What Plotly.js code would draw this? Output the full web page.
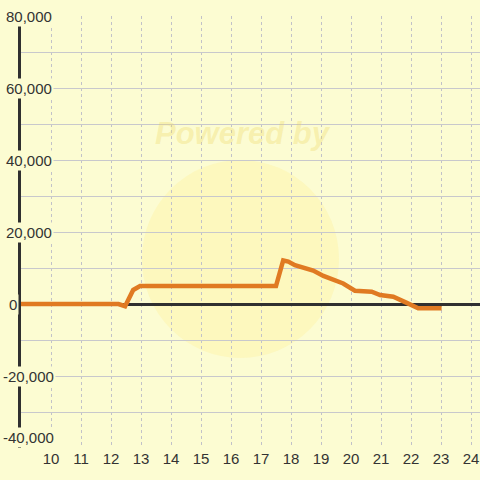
<!DOCTYPE html>
<html>
<head>
<meta charset="utf-8">
<script src="https://cdn.plot.ly/plotly-3.0.1.min.js"></script>
<style>html,body{margin:0;padding:0;background:#fcfcd2;}#chart{width:480px;height:480px;}</style>
</head>
<body>
<div id="chart"></div>
<script>
// Data
const xValues = [9, 12.25, 12.47, 12.74, 12.97, 17.5, 17.74, 17.91, 18.13, 18.47, 18.74, 19.08, 19.47, 19.74, 20.13, 20.69, 20.97, 21.41, 21.86, 22.24, 23.02];
const yValues = [0, 0, -600, 3900, 5000, 5000, 12100, 11800, 10800, 9900, 9300, 7800, 6400, 5700, 3700, 3400, 2500, 2000, 300, -1200, -1200];
const xTicks = [10, 11, 12, 13, 14, 15, 16, 17, 18, 19, 20, 21, 22, 23, 24];
const yTickValues = [80000, 60000, 40000, 20000, 0, -20000, -40000];
const yTickLabels = ['80,000', '60,000', '40,000', '20,000', '0', '-20,000', '-40,000'];

const bg = '#fcfcd2';
const textColor = '#333333';
const yMin = -40000;

const trace = {
  x: xValues, y: yValues, type: 'scatter', mode: 'lines',
  line: {color: '#e07a22', width: 4.5},
  hoverinfo: 'skip', showlegend: false
};

const annotations = yTickValues.map((v, i) => {
  const lbl = yTickLabels[i];
  const neg = lbl.charAt(0) === '-';
  const px = lbl === '0' ? 7 : (neg ? 1 : 4);
  return {
    xref: 'paper', yref: 'y', x: (px - 21) / 459, y: v,
    xanchor: 'left', yanchor: v === yMin ? 'bottom' : 'middle',
    text: lbl, showarrow: false,
    font: {family: 'Liberation Sans, Arial, sans-serif', size: 15, color: textColor},
    bgcolor: bg, borderpad: 1
  };
});

annotations.push({
  xref: 'paper', yref: 'paper', x: 0.483, y: 0.727,
  xanchor: 'center', yanchor: 'middle', showarrow: false,
  text: '<b><i>Powered by</i></b>',
  font: {family: 'Liberation Sans, Arial, sans-serif', size: 31, color: 'rgba(236,214,100,0.33)'}
});

const layout = {
  width: 480, height: 480,
  margin: {l: 21, r: 0, t: 16, b: 32},
  paper_bgcolor: bg, plot_bgcolor: bg,
  xaxis: {
    range: [9, 24.3], tickvals: xTicks, ticktext: xTicks.map(String),
    showgrid: true, gridcolor: '#c2c2c8', gridwidth: 1, griddash: '3px,3px',
    zeroline: false, showline: false, ticks: '',
    tickfont: {family: 'Liberation Sans, Arial, sans-serif', size: 15, color: textColor},
    fixedrange: true
  },
  yaxis: {
    range: [-40000, 80000], dtick: 10000, showticklabels: false,
    showgrid: true, gridcolor: '#c8c8cc', gridwidth: 1,
    zeroline: true, zerolinecolor: '#303030', zerolinewidth: 3,
    showline: true, linecolor: '#303030', linewidth: 3, ticks: '',
    fixedrange: true
  },
  shapes: [{
    type: 'circle', xref: 'x', yref: 'y', layer: 'below',
    x0: 13.03, x1: 19.6, y0: -15000, y1: 40000,
    fillcolor: 'rgba(255,238,140,0.28)', line: {width: 0}
  }],
  annotations: annotations
};

Plotly.newPlot('chart', [trace], layout, {staticPlot: true, displayModeBar: false});
</script>
</body>
</html>
